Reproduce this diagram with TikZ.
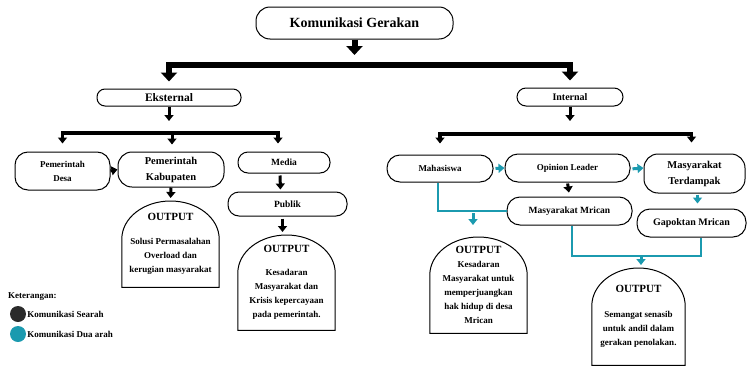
\documentclass[tikz,border=0pt]{standalone}
\usepackage{fontspec}
\setmainfont{Liberation Serif}
\usepackage{tikz}
\usetikzlibrary{arrows.meta, calc, positioning}
\definecolor{searahGray}{HTML}{2B2B2B}
\definecolor{duaArah}{HTML}{1B9AAF}

% draws the "tombstone" outline around an output node
\newcommand{\tombline}[1]{%
  \draw[line width=1pt] let \p1 = (#1.north west), \p2 = (#1.north east) in
    (#1.south west) -- ([yshift=-38pt]#1.north west)
    arc[start angle=180, end angle=0, x radius={(\x2-\x1)/2}, y radius=38pt]
    -- (#1.south east) -- cycle;}

\begin{document}
\begin{tikzpicture}[x=1pt, y=-1pt, line cap=butt,
  pill/.style={draw, line width=1pt, rounded corners=#1, align=center, inner sep=0pt},
  pill/.default=10pt,
  outbox/.style={inner sep=0pt, align=center, font=\fontsize{9}{14}\selectfont\bfseries},
  fnine/.style={font=\fontsize{9}{14}\selectfont\bfseries},
  ften/.style={font=\fontsize{10.5}{16}\selectfont\bfseries},
  bigarrow/.style={line width=6pt, -{Triangle[width=16pt, length=9pt]}},
  bigbar/.style={line width=6pt, {Triangle[width=16pt, length=9pt]}-{Triangle[width=16pt, length=9pt]}},
  midarrow/.style={line width=3pt, -{Triangle[width=9pt, length=6pt]}},
  midbar/.style={line width=3.5pt, {Triangle[width=9pt, length=6pt]}-{Triangle[width=9pt, length=6pt]}},
  tealarrow/.style={duaArah, line width=3pt, -{Triangle[width=9pt, length=6pt]}},
  tealline/.style={duaArah, line width=2pt},
  dot/.style={circle, minimum size=16pt, inner sep=0pt}]

  \useasboundingbox (0,0) rectangle (747,367);

  % top level
  \node[pill=14pt, minimum width=197pt, minimum height=32pt, font=\fontsize{14}{16}\selectfont\bfseries] (kom) at (354.5,23) {Komunikasi Gerakan};
  \coordinate (bar1) at (354.5,65);
  \node[pill=8pt, minimum width=144pt, minimum height=17pt, font=\fontsize{11.5}{13}\selectfont\bfseries] (eks) at (169,97.5) {Eksternal};
  \node[pill=9pt, minimum width=106pt, minimum height=18pt, font=\fontsize{10}{12}\selectfont\bfseries] (int) at (570,97) {Internal};

  \draw[bigarrow, shorten >=10pt] (kom.south) -- (kom.south |- bar1);
  \draw[bigbar, shorten <=7pt, shorten >=7pt] (eks.north) |- (bar1) -| (int.north);

  % eksternal
  \coordinate (bar2) at (172,133);
  \node[pill=13pt, minimum width=95pt, minimum height=38pt, fnine] (desa) at (62.5,171) {Pemerintah\\Desa};
  \node[pill=14pt, minimum width=106pt, minimum height=35pt, ften] (kab) at (171,169.5) {Pemerintah\\Kabupaten};
  \node[pill=10pt, minimum width=92pt, minimum height=21pt, font=\fontsize{9.5}{12}\selectfont\bfseries] (media) at (284,162.5) {Media};
  \node[pill=11pt, minimum width=119pt, minimum height=24pt, font=\fontsize{9.5}{12}\selectfont\bfseries] (publik) at (287.5,204) {Publik};

  \draw[midarrow, shorten >=12pt] (eks.south) -- (eks.south |- bar2);
  \draw[midbar, shorten <=8pt, shorten >=8pt] (desa.north) |- (bar2) -| ([xshift=-6pt]media.north);
  \draw[midarrow, shorten >=7pt] (bar2) -- (bar2 |- kab.north);
  \draw[midarrow] (desa.east) -- (kab.west);
  \draw[midarrow, shorten <=2pt, shorten >=2pt] ([xshift=-4pt]media.south) -- ([xshift=-7pt]publik.north);

  \node[outbox, minimum width=97pt, minimum height=86pt, anchor=north] (out1) at (170.5,201)
    {{\fontsize{11}{13}\selectfont OUTPUT}\\[10pt]Solusi Permasalahan\\Overload dan\\kerugian masyarakat};
  \tombline{out1}
  \draw[midarrow, shorten >=3pt] (kab.south) -- (out1.north);

  \node[outbox, minimum width=97pt, minimum height=95pt, anchor=north] (out2) at (286.5,235)
    {{\fontsize{11}{13}\selectfont OUTPUT}\\[9pt]Kesadaran\\Masyarakat dan\\Krisis kepercayaan\\pada pemerintah.};
  \tombline{out2}
  \draw[midarrow, shorten <=2pt, shorten >=3pt] ([xshift=-5pt]publik.south) -- ([xshift=-4pt]out2.north);

  % internal
  \coordinate (bar3) at (571,134);
  \node[pill=13pt, minimum width=106pt, minimum height=27pt, fnine] (mhs) at (440,168.5) {Mahasiswa};
  \node[pill=13pt, minimum width=125pt, minimum height=28pt, fnine] (opl) at (567.5,168) {Opinion Leader};
  \node[pill=14pt, minimum width=101pt, minimum height=39pt, ften] (terd) at (694.5,173.5) {Masyarakat\\Terdampak};
  \node[pill=13pt, minimum width=125pt, minimum height=28pt, font=\fontsize{9.5}{12}\selectfont\bfseries] (mrican) at (569.5,211) {Masyarakat Mrican};
  \node[pill=13pt, minimum width=109pt, minimum height=28pt, font=\fontsize{10}{12}\selectfont\bfseries] (gapok) at (691.5,223) {Gapoktan Mrican};

  \draw[midarrow, shorten >=13pt] (int.south) -- (int.south |- bar3);
  \draw[midbar, shorten <=11pt, shorten >=11pt] (mhs.north) |- (bar3) -| ([xshift=-3pt]terd.north);
  \draw[tealarrow, shorten <=2pt] (mhs.east) -- (opl.west);
  \draw[tealarrow, shorten <=2pt] ([yshift=-1pt]opl.east) -- (opl.east -| terd.west);
  \draw[midarrow, shorten <=1pt, shorten >=4pt] (opl.south) -- (mrican.north);
  \draw[tealarrow, shorten <=1pt, shorten >=5pt] ([xshift=3pt]terd.south) -- ([xshift=3pt]terd.south |- gapok.north);

  \coordinate (join1) at (473,213);
  \coordinate (join2) at (641,256);
  \node[outbox, minimum width=97pt, minimum height=96pt, anchor=north] (out3) at (478.5,237)
    {{\fontsize{11}{13}\selectfont OUTPUT}\\[0pt]Kesadaran\\Masyarakat untuk\\memperjuangkan\\hak hidup di desa\\Mrican};
  \tombline{out3}
  \node[outbox, minimum width=93pt, minimum height=97pt, anchor=north] (out4) at (638.5,268)
    {{\fontsize{11}{13}\selectfont OUTPUT}\\[11pt]Semangat senasib\\untuk andil dalam\\gerakan penolakan.};
  \tombline{out4}

  \draw[tealline] ([xshift=-2pt]mhs.south) |- (mrican.west);
  \draw[tealarrow, shorten >=12pt] (join1) -- (join1 |- out3.north);
  \draw[tealline] ([xshift=2pt]mrican.south) |- (join2) -| ([xshift=9pt]gapok.south);
  \draw[tealarrow, shorten >=3pt] (join2) -- (join2 |- out4.north);

  % keterangan
  \node[anchor=west, fnine, inner sep=0pt] (ket) at (8,297) {Keterangan:};
  \node[dot, fill=searahGray] (lgA) at (18,314) {};
  \node[right=1pt of lgA, fnine, inner sep=0pt] (lgAtext) {Komunikasi Searah};
  \node[dot, fill=duaArah] (lgB) at (18,334) {};
  \node[right=1pt of lgB, fnine, inner sep=0pt] (lgBtext) {Komunikasi Dua arah};

\end{tikzpicture}
\end{document}
